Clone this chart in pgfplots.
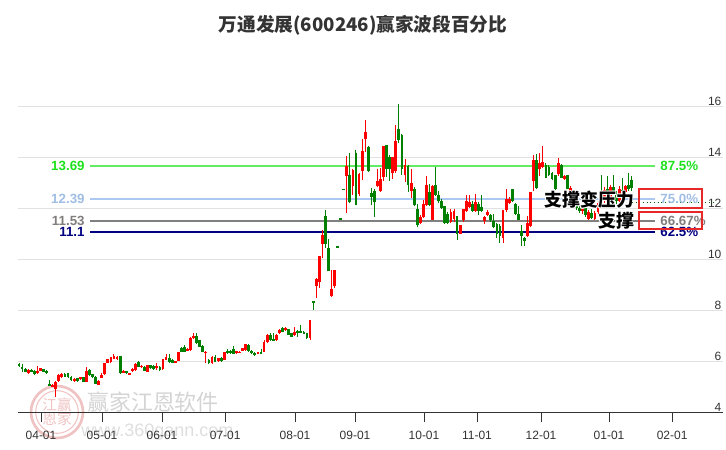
\documentclass[border=0pt]{standalone}
\usepackage{pgfplots}
\pgfplotsset{compat=1.18}
\usepackage{pgfplotstable}
\usepackage{fontspec}
\setmainfont{Liberation Sans}
\newfontfamily\cjk{Noto Sans CJK SC}
\definecolor{cred}{RGB}{255,0,0}
\definecolor{cgreen}{RGB}{0,128,0}
\definecolor{lgreen}{RGB}{100,235,100}
\definecolor{tgreen}{RGB}{30,225,30}
\definecolor{lblue}{RGB}{170,200,240}
\definecolor{tblue}{RGB}{160,190,228}
\definecolor{lgray}{RGB}{128,128,128}
\definecolor{tgray}{RGB}{130,125,125}
\definecolor{lnavy}{RGB}{0,0,128}
\definecolor{gridc}{RGB}{225,225,225}
\definecolor{boxred}{RGB}{230,40,40}
\definecolor{dgreen}{RGB}{0,100,0}
\definecolor{txt}{RGB}{51,51,51}
\definecolor{wm}{RGB}{212,212,212}
\definecolor{wm2}{RGB}{222,222,222}
\definecolor{wmpink}{RGB}{240,195,195}

\pgfplotstableread{
n o h l c
0 5.92 5.95 5.80 5.84
1 5.82 5.92 5.60 5.74
2 5.73 5.75 5.60 5.62
3 5.56 5.73 5.54 5.70
4 5.70 5.72 5.61 5.63
5 5.66 5.67 5.50 5.53
6 5.56 5.85 5.52 5.66
7 5.66 5.77 5.64 5.75
8 5.73 5.74 5.60 5.62
9 5.62 5.70 5.52 5.61
10 5.12 5.30 5.05 5.08
11 5.04 5.12 5.00 5.10
12 4.94 5.24 4.64 5.20
13 5.25 5.52 5.22 5.48
14 5.40 5.56 5.36 5.52
15 5.53 5.56 5.40 5.43
16 5.55 5.58 5.38 5.40
17 5.42 5.44 5.27 5.30
18 5.25 5.36 5.22 5.32
19 5.36 5.38 5.22 5.24
20 5.33 5.42 5.30 5.40
21 5.40 5.42 5.20 5.22
22 5.22 5.79 5.20 5.64
23 5.68 5.72 5.46 5.50
24 5.52 5.54 5.36 5.40
25 5.42 5.44 5.12 5.15
26 5.10 5.30 5.08 5.27
27 5.38 5.55 5.36 5.50
28 5.52 5.98 5.50 5.96
29 5.98 6.12 5.96 6.10
30 6.00 6.20 5.98 6.18
31 6.12 6.30 6.10 6.25
32 6.10 6.24 6.08 6.20
33 6.22 6.24 5.52 5.55
34 5.58 5.70 5.55 5.66
35 5.64 5.66 5.52 5.55
36 5.52 5.58 5.50 5.55
37 5.66 5.75 5.62 5.72
38 5.69 5.95 5.66 5.92
39 6.00 6.02 5.80 5.82
40 5.80 5.88 5.78 5.85
41 5.82 5.84 5.64 5.66
42 5.62 5.90 5.60 5.88
43 5.88 5.90 5.73 5.75
44 5.85 5.88 5.68 5.72
45 5.75 5.96 5.70 5.84
46 5.82 5.85 5.66 5.68
47 5.73 6.12 5.70 6.10
48 6.08 6.32 6.06 6.20
49 6.15 6.30 5.98 6.01
50 6.08 6.10 5.95 5.97
51 5.97 6.05 5.95 6.03
52 6.04 6.40 6.02 6.38
53 6.55 6.58 6.38 6.40
54 6.58 6.65 6.38 6.40
55 6.44 6.55 6.42 6.52
56 6.46 6.98 6.44 6.95
57 6.94 7.13 6.92 7.00
58 7.03 7.12 6.70 6.73
59 6.86 6.88 6.58 6.60
60 6.62 6.65 6.38 6.40
61 6.35 6.43 5.95 6.40
62 6.08 6.10 5.94 5.96
63 5.97 6.22 5.94 6.20
64 6.20 6.28 5.99 6.01
65 6.02 6.16 6.00 6.14
66 6.14 6.18 6.00 6.03
67 6.08 6.40 6.06 6.38
68 6.45 6.50 6.33 6.35
69 6.42 6.46 6.32 6.34
70 6.50 6.62 6.30 6.32
71 6.34 6.44 6.32 6.42
72 6.36 6.42 6.34 6.39
73 6.44 6.55 6.42 6.53
74 6.47 6.72 6.45 6.70
75 6.68 6.72 6.40 6.42
76 6.44 6.46 6.32 6.34
77 6.36 6.38 6.24 6.28
78 6.34 6.40 6.32 6.38
79 6.40 6.50 6.30 6.34
80 6.40 6.86 6.38 6.80
81 6.78 7.10 6.73 7.06
82 7.06 7.12 6.84 6.86
83 6.88 7.12 6.84 6.86
84 6.86 7.10 6.84 7.06
85 7.13 7.30 7.08 7.26
86 7.32 7.39 7.17 7.19
87 7.25 7.36 7.22 7.32
88 7.28 7.30 7.04 7.06
89 7.12 7.14 6.97 6.99
90 7.06 7.39 7.02 7.19
91 7.19 7.25 6.98 7.16
92 7.19 7.45 7.13 7.16
93 7.16 7.20 7.08 7.10
94 7.13 7.14 6.91 6.93
95 6.94 7.66 6.86 7.65
96 8.37 8.38 8.04 8.35
97 8.98 9.30 8.52 9.27
98 9.14 10.16 8.90 10.14
99 10.64 11.16 10.08 10.97
100 11.71 11.95 10.47 10.64
101 10.48 10.81 9.55 9.57
102 8.59 9.59 8.55 8.85
103 8.98 9.61 8.90 9.59
104 10.53 10.53 10.50 10.51
105 11.63 11.63 11.60 11.61
106 12.78 12.78 12.75 12.76
107 13.28 14.07 11.84 13.67
108 13.32 14.20 12.25 12.27
109 12.90 13.55 12.54 13.52
110 14.21 14.30 12.15 12.17
111 12.58 13.40 12.50 13.39
112 13.48 14.73 13.12 14.26
113 14.73 15.48 14.24 15.00
114 14.43 14.45 13.45 13.48
115 12.63 12.82 12.14 12.47
116 12.69 12.80 11.69 12.27
117 12.90 13.58 12.85 13.09
118 12.69 13.60 12.65 13.16
119 13.25 14.47 13.09 14.47
120 14.50 14.50 13.25 13.58
121 14.04 14.10 13.10 13.58
122 13.42 14.04 13.18 14.04
123 13.48 15.30 13.40 14.65
124 15.15 16.13 14.60 14.69
125 14.89 14.95 13.32 13.58
126 13.32 13.97 13.06 13.71
127 13.69 13.72 12.67 12.95
128 12.70 13.58 12.43 13.00
129 12.80 12.85 12.10 12.17
130 12.00 12.20 11.30 11.36
131 11.45 11.78 11.40 11.69
132 11.69 12.34 11.65 12.21
133 12.14 13.28 12.10 12.95
134 12.67 12.99 12.10 12.17
135 11.58 12.95 11.55 12.89
136 12.93 13.65 12.50 12.54
137 12.56 12.70 12.25 12.30
138 12.30 12.40 12.00 12.04
139 12.10 12.12 11.40 11.45
140 11.82 11.88 11.40 11.45
141 11.49 11.98 11.45 11.88
142 11.62 11.98 11.49 11.91
143 11.71 11.72 10.77 11.03
144 11.03 11.39 11.00 11.36
145 11.55 12.00 11.50 12.00
146 11.93 12.53 11.88 12.30
147 12.07 12.53 12.05 12.27
148 12.20 12.30 11.90 11.93
149 11.93 12.60 11.90 12.27
150 12.20 12.26 11.75 11.93
151 12.07 12.56 11.90 11.93
152 11.52 11.74 11.43 11.69
153 11.78 11.95 11.74 11.88
154 11.78 11.82 11.50 11.55
155 11.52 11.82 11.25 11.29
156 11.40 11.45 10.85 11.03
157 11.33 11.40 10.68 10.94
158 10.88 11.96 10.68 11.96
159 11.96 12.80 11.90 12.38
160 12.25 12.45 12.20 12.38
161 12.77 12.80 12.28 12.31
162 12.18 12.22 11.75 11.79
163 11.79 12.12 11.55 11.57
164 11.14 11.36 10.55 10.94
165 10.88 10.90 10.55 10.75
166 10.94 11.73 10.90 11.46
167 11.33 12.67 11.30 12.67
168 13.10 14.10 12.71 13.92
169 13.92 14.14 12.77 12.84
170 13.56 14.21 13.29 13.82
171 13.66 14.47 13.60 13.84
172 13.71 13.82 13.20 13.23
173 13.66 13.71 13.30 13.32
174 13.42 13.45 13.14 13.16
175 13.32 13.35 12.75 12.77
176 13.36 14.00 13.30 13.82
177 13.71 13.75 13.20 13.23
178 13.19 13.32 13.15 13.29
179 13.32 13.35 12.78 12.80
180 12.71 12.90 12.68 12.84
181 12.70 12.72 12.22 12.25
182 12.30 12.40 11.95 12.02
183 12.02 12.15 11.85 11.92
184 11.92 12.10 11.80 12.05
185 12.05 12.12 11.70 11.75
186 11.62 11.95 11.58 11.88
187 11.85 11.98 11.60 11.66
188 11.62 11.92 11.55 11.85
189 11.88 12.30 11.80 12.22
190 12.60 13.35 12.20 12.30
191 12.30 12.85 12.25 12.75
192 12.80 13.30 12.40 12.50
193 12.45 12.95 12.40 12.85
194 12.85 13.32 12.55 12.60
195 12.55 12.70 12.20 12.30
196 12.30 12.90 12.25 12.80
197 12.75 13.20 12.60 12.70
198 12.65 12.95 12.45 12.90
199 12.95 13.40 12.70 12.80
200 13.12 13.30 12.70 12.82
}\kdata

\tikzset{halo/.style={anchor=east, inner sep=0pt, text=white, font=\cjk\bfseries\fontsize{13.4}{15}\selectfont},
  annot/.style={anchor=east, inner sep=0pt, text=black, font=\cjk\bfseries\fontsize{13.4}{15}\selectfont}}
\newcommand{\halotext}[3]{% #1 x, #2 y, #3 text
  \node[halo, xshift=0.7pt] at (axis cs:#1,#2) {#3};
  \node[halo, xshift=-0.7pt] at (axis cs:#1,#2) {#3};
  \node[halo, yshift=0.7pt] at (axis cs:#1,#2) {#3};
  \node[halo, yshift=-0.7pt] at (axis cs:#1,#2) {#3};
  \node[halo, xshift=0.5pt, yshift=0.5pt] at (axis cs:#1,#2) {#3};
  \node[halo, xshift=-0.5pt, yshift=0.5pt] at (axis cs:#1,#2) {#3};
  \node[halo, xshift=0.5pt, yshift=-0.5pt] at (axis cs:#1,#2) {#3};
  \node[halo, xshift=-0.5pt, yshift=-0.5pt] at (axis cs:#1,#2) {#3};
  \node[annot] at (axis cs:#1,#2) {#3};
}

\begin{document}
\begin{tikzpicture}
\path[use as bounding box] (0,0) rectangle (544.5pt,337.5pt);
% watermark
\draw[wmpink, line width=2pt] (42.75pt,28.5pt) circle (19.5pt);
\draw[wmpink, line width=0.8pt] (42.75pt,28.5pt) circle (16pt);
\node[text=wmpink, align=center, inner sep=0pt, font=\cjk\fontsize{11}{12}\selectfont] at (42.75pt,28.5pt) {江赢\\[-1pt]恩家};
\node[text=wm, inner sep=0pt, font=\cjk\fontsize{16.5}{18}\selectfont] at (114.75pt,36pt) {赢家江恩软件};
\node[text=wm2, inner sep=0pt, font=\fontsize{13.5}{14}\selectfont] at (118pt,13.5pt) {www.360gann.com};
% title
\node[text=txt, inner sep=0pt, font=\cjk\bfseries\fontsize{14}{16}\selectfont] at (272.25pt,318.75pt) {万通发展(600246)赢家波段百分比};
\begin{axis}[
  at={(13.5pt,27.75pt)}, anchor=south west,
  scale only axis, width=528.75pt, height=266.25pt,
  xmin=-0.33, xmax=229.8, ymin=4, ymax=17.92,
  clip=false,
  axis line style={draw=none},
  ymajorgrids, grid style={gridc, line width=0.75pt},
  ytick={4,6,...,16}, yticklabels={},
  ytick style={draw=none},
  xtick pos=bottom, tick align=outside,
  major tick length=6.75pt,
  xtick style={txt, line width=0.75pt},
  xtick={7.18,27.1,46.7,67.3,90.1,109.7,132.2,149.5,170.4,192.6,213.2},
  xticklabels={04-01,05-01,06-01,07-01,08-01,09-01,10-01,11-01,12-01,01-01,02-01},
  xticklabel style={font=\fontsize{9}{10}\selectfont, text=txt, yshift=-3.5pt},
]
\draw[txt, line width=0.75pt] (axis cs:-0.33,4) -- (axis cs:229.8,4);
\pgfplotsinvokeforeach{4,6,8,10,12,14,16}{
  \node[anchor=south east, inner sep=1pt, text=txt, font=\fontsize{9}{10}\selectfont] at (axis cs:229.8,#1) {#1};
}
% key lines
\addplot[lgreen, line width=1pt] coordinates {(23.2,13.69) (207.6,13.69)};
\addplot[lblue, line width=1pt] coordinates {(23.2,12.39) (207.6,12.39)};
\addplot[lgray, line width=1pt] coordinates {(23.2,11.53) (207.6,11.53)};
\addplot[lnavy, line width=1pt] coordinates {(23.2,11.1) (207.6,11.1)};
\addplot[dgreen, dotted, line width=0.75pt] coordinates {(200.1,12.27) (226.6,12.27)};
% wicks
\addplot[draw=none, mark=none, error bars/.cd, y dir=both, y explicit, error mark=none,
  error bar style={draw=cred, line width=0.75pt}]
  table[x=n, y expr={\thisrow{c}>=\thisrow{o} ? 0.5*(\thisrow{h}+\thisrow{l}) : nan},
        y error expr={0.5*(\thisrow{h}-\thisrow{l})}] {\kdata};
\addplot[draw=none, mark=none, error bars/.cd, y dir=both, y explicit, error mark=none,
  error bar style={draw=cgreen, line width=0.75pt}]
  table[x=n, y expr={\thisrow{c}<\thisrow{o} ? 0.5*(\thisrow{h}+\thisrow{l}) : nan},
        y error expr={0.5*(\thisrow{h}-\thisrow{l})}] {\kdata};
% bodies
\addplot[draw=none, mark=none, error bars/.cd, y dir=both, y explicit, error mark=none,
  error bar style={draw=cred, line width=2.1pt}]
  table[x=n, y expr={\thisrow{c}>=\thisrow{o} ? 0.5*(\thisrow{o}+\thisrow{c}) : nan},
        y error expr={max(0.5*abs(\thisrow{c}-\thisrow{o}),0.03)}] {\kdata};
\addplot[draw=none, mark=none, error bars/.cd, y dir=both, y explicit, error mark=none,
  error bar style={draw=cgreen, line width=2.1pt}]
  table[x=n, y expr={\thisrow{c}<\thisrow{o} ? 0.5*(\thisrow{o}+\thisrow{c}) : nan},
        y error expr={max(0.5*abs(\thisrow{c}-\thisrow{o}),0.03)}] {\kdata};
% labels
\node[anchor=east, inner sep=0pt, text=tgreen, font=\bfseries\fontsize{10}{11}\selectfont] at (axis cs:21.5,13.69) {13.69};
\node[anchor=east, inner sep=0pt, text=tblue, font=\bfseries\fontsize{10}{11}\selectfont] at (axis cs:21.5,12.39) {12.39};
\node[anchor=east, inner sep=0pt, text=tgray, font=\bfseries\fontsize{10}{11}\selectfont] at (axis cs:21.5,11.53) {11.53};
\node[anchor=east, inner sep=0pt, text=lnavy, font=\bfseries\fontsize{10}{11}\selectfont] at (axis cs:21.5,11.1) {11.1};
\node[anchor=west, inner sep=0pt, text=tgreen, font=\bfseries\fontsize{10}{11}\selectfont] at (axis cs:209.3,13.69) {87.5\%};
\node[anchor=west, inner sep=0pt, text=tblue, font=\bfseries\fontsize{10}{11}\selectfont] at (axis cs:209.3,12.39) {75.0\%};
\node[anchor=west, inner sep=0pt, text=tgray, font=\bfseries\fontsize{10}{11}\selectfont] at (axis cs:209.3,11.53) {66.67\%};
\node[anchor=west, inner sep=0pt, text=lnavy, font=\bfseries\fontsize{10}{11}\selectfont] at (axis cs:209.3,11.1) {62.5\%};
% annotations
\halotext{200.8}{12.35}{支撑变压力}
\halotext{200.8}{11.53}{支撑}
\draw[boxred, line width=1.5pt] (axis cs:202.4,12.04) rectangle (axis cs:223,12.78);
\draw[boxred, line width=1.5pt] (axis cs:202.4,11.22) rectangle (axis cs:223,11.88);
\end{axis}
\end{tikzpicture}
\end{document}
